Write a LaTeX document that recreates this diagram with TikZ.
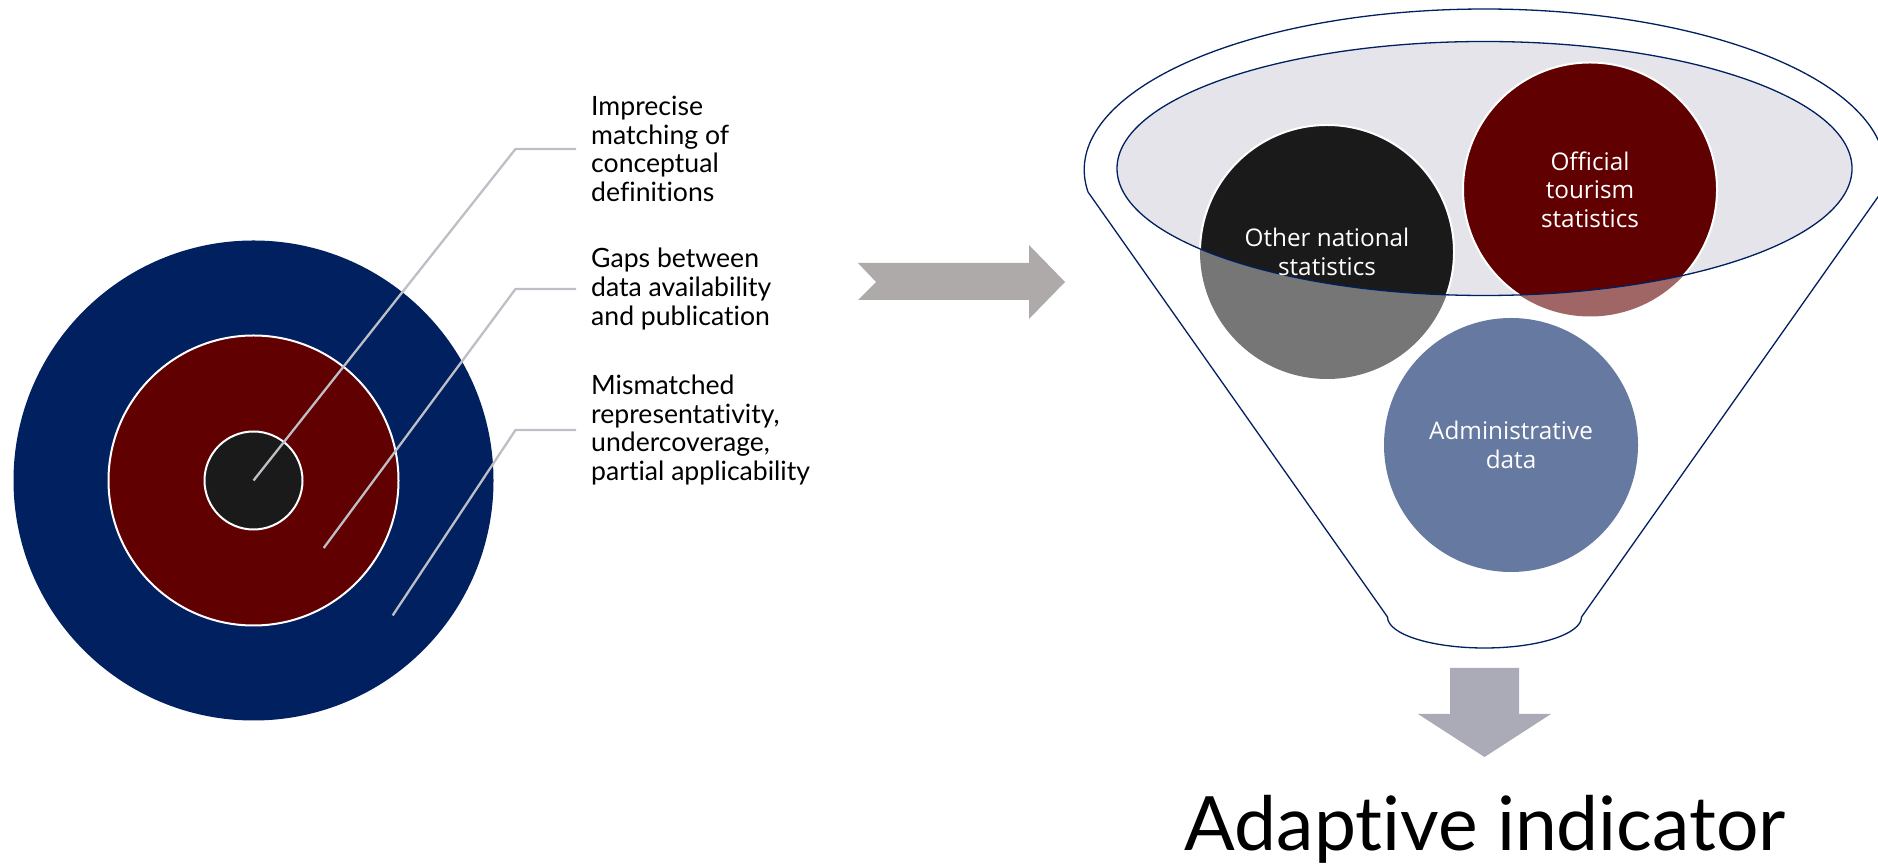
\documentclass[tikz,border=0pt]{standalone}
\usepackage{fontspec}
\setmainfont{Lato}[Ligatures={NoCommon}]
\newfontfamily\circfont{Open Sans}[Ligatures={NoCommon}]
\definecolor{navyc}{HTML}{002060}
\definecolor{redc}{HTML}{600000}
\definecolor{blkc}{HTML}{1A1A1A}
\definecolor{leadc}{HTML}{BEBEC6}
\definecolor{ellc}{HTML}{E4E4EA}
\definecolor{arrc}{HTML}{AEAAAA}
\definecolor{darrc}{HTML}{ABABB8}
\begin{document}
\begin{tikzpicture}[x=1pt,y=1pt,
  lead/.style={draw=leadc, line width=2.3pt},
  lbl/.style={anchor=west, align=left, inner sep=0pt, text=black, font=\fontsize{26.6}{28.7}\selectfont},
  ctext/.style={align=center, inner sep=0pt, text=white, font=\circfont\fontsize{24.3}{28.5}\selectfont},
  fun/.style={draw=navyc, line width=1.3pt},
  ring/.style={draw=white, line width=2pt}
]
\useasboundingbox (0,0) rectangle (1878,864);
% ---- target ----
\fill[navyc] (253.5,383.5) circle (240pt);
\filldraw[fill=redc, ring] (253.5,383.5) circle (145pt);
\filldraw[fill=blkc, ring] (253.5,383.5) circle (49pt);
% ---- labels ----
\node[lbl] (t1) at (591,715) {Imprecise\\matching of\\conceptual\\definitions};
\node[lbl] (t2) at (591,575) {Gaps between\\data availability\\and publication};
\node[lbl] (t3) at (591,434) {Mismatched\\representativity,\\undercoverage,\\partial applicability};
\coordinate (a1) at (253.5,383.5);
\coordinate (b1) at (515.5,715);
\coordinate (a2) at (323.7,316);
\coordinate (b2) at (515.5,575);
\coordinate (a3) at (392.7,248.6);
\coordinate (b3) at (515.5,434);
\draw[lead] (a1) -- (b1) -- ([xshift=-15pt]t1.west);
\draw[lead] (a2) -- (b2) -- ([xshift=-15pt]t2.west);
\draw[lead] (a3) -- (b3) -- ([xshift=-15pt]t3.west);
% ---- right arrow ----
\fill[arrc] (858,601) -- (1029,601) -- (1029,619) -- (1065,582) -- (1029,545) -- (1029,564) -- (858,564) -- (876,582) -- cycle;
% ---- funnel ----
\draw[fun] (1387.5,247) -- (1088,672) arc[start angle=187.85, end angle=-7.85, x radius=400.5pt, y radius=161pt] -- (1581.5,247) arc[start angle=0, end angle=-180, x radius=97pt, y radius=31pt];
\fill[ellc] (1484.5,695.5) ellipse [x radius=367.5pt, y radius=127pt];
% faded circles
\fill[blkc, opacity=0.6] (1327,612) circle (127pt);
\fill[redc, opacity=0.6] (1590,674.5) circle (127pt);
\fill[navyc, opacity=0.6] (1511,419) circle (127pt);
\begin{scope}
\clip (1484.5,695.5) ellipse [x radius=367.5pt, y radius=127pt];
\filldraw[fill=blkc, ring] (1327,612) circle (127pt);
\filldraw[fill=redc, ring] (1590,674.5) circle (127pt);
\end{scope}
\draw[fun] (1484.5,695.5) ellipse [x radius=367.5pt, y radius=127pt];
\node[ctext] (c1) at (1327,612) {Other national\\statistics};
\node[ctext] (c2) at (1590,674.5) {Official\\tourism\\statistics};
\node[ctext] (c3) at (1511,419) {Administrative\\data};
% ---- down arrow ----
\fill[darrc] (1450,196) -- (1519,196) -- (1519,150) -- (1551,150) -- (1484.5,107) -- (1418,150) -- (1450,150) -- cycle;
\node[anchor=base, inner sep=0pt, font=\fontsize{75}{90}\selectfont] (res) at (1485.5,13) {Adaptive indicator};
\end{tikzpicture}
\end{document}
